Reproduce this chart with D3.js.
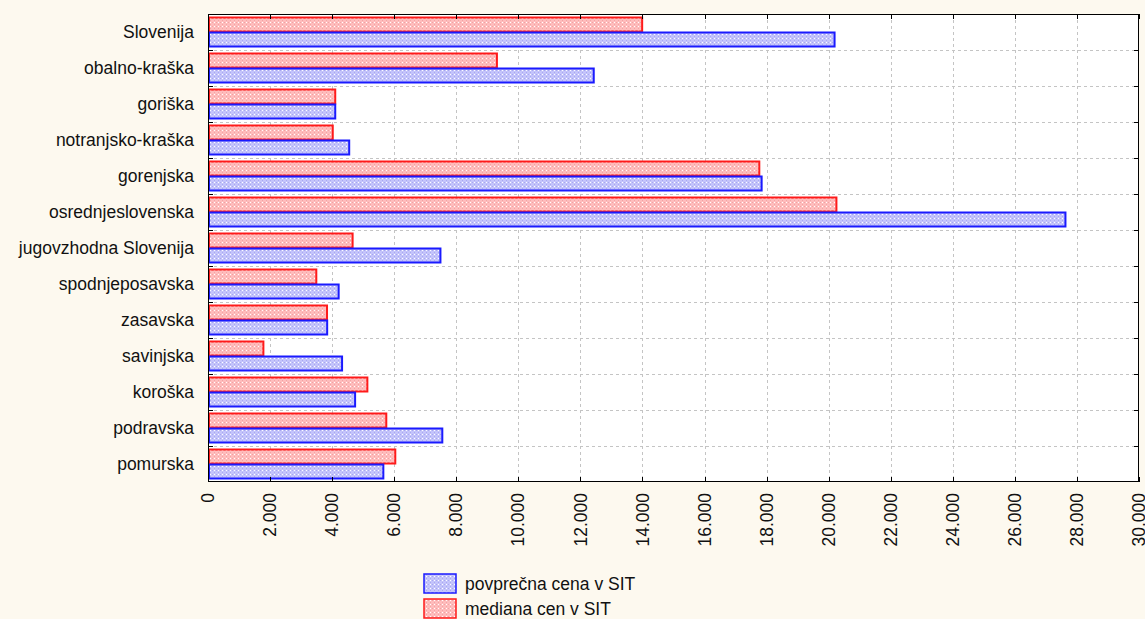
<!DOCTYPE html>
<html>
<head>
<meta charset="utf-8">
<script src="https://cdn.jsdelivr.net/npm/d3@7"></script>
<style>
  html, body { margin: 0; padding: 0; background: #fdf9ef; }
  svg { display: block; }
  text { font-family: "Liberation Sans", Arial, sans-serif; font-size: 17.5px; fill: #111; }
</style>
</head>
<body>
<svg id="chart" width="1145" height="619"></svg>
<script>
// Regions (top to bottom)
const regions = [
  "Slovenija", "obalno-kraška", "goriška", "notranjsko-kraška", "gorenjska",
  "osrednjeslovenska", "jugovzhodna Slovenija", "spodnjeposavska", "zasavska",
  "savinjska", "koroška", "podravska", "pomurska"
];
// Average price in SIT
const povprecna = [20190, 12430, 4100, 4550, 17840, 27630, 7490, 4210, 3840, 4320, 4740, 7550, 5650];
// Median price in SIT
const mediana = [13990, 9310, 4100, 4020, 17765, 20250, 4660, 3490, 3835, 1785, 5135, 5745, 6035];
const seriesNames = ["mediana cen v SIT", "povprečna cena v SIT"];
const legendNames = ["povprečna cena v SIT", "mediana cen v SIT"];
const tickValues = [0, 2000, 4000, 6000, 8000, 10000, 12000, 14000, 16000, 18000, 20000, 22000, 24000, 26000, 28000, 30000];

const svg = d3.select("#chart");
const m = { left: 208, top: 14, right: 1139, bottom: 482 };

const x = d3.scaleLinear().domain([0, 30000]).range([m.left, m.right]);
const y = d3.scaleBand().domain(regions).range([m.top, m.bottom]).padding(0);
const ys = d3.scaleBand().domain(seriesNames).range([0, y.bandwidth()]).paddingInner(0).paddingOuter(0.2);

const fmt = v => v === 0 ? "0" : d3.format(",")(v).replace(/,/g, ".");

// Hatch patterns for bar fills
const defs = svg.append("defs");
function pattern(id, base, dot) {
  const p = defs.append("pattern").attr("id", id).attr("patternUnits", "userSpaceOnUse")
    .attr("width", 4).attr("height", 4);
  p.append("rect").attr("width", 4).attr("height", 4).attr("fill", base);
  p.append("rect").attr("x", 0).attr("y", 0).attr("width", 1).attr("height", 1).attr("fill", dot);
  p.append("rect").attr("x", 2).attr("y", 2).attr("width", 1).attr("height", 1).attr("fill", dot);
  p.append("rect").attr("x", 2).attr("y", 0).attr("width", 1).attr("height", 1).attr("fill", "#fff");
}
pattern("hatchBlue", "#c4c4fb", "#a8a8f0");
pattern("hatchRed", "#ffbcbc", "#f0a4a4");

// Plot background
svg.append("rect").attr("x", m.left).attr("y", m.top)
  .attr("width", m.right - m.left).attr("height", m.bottom - m.top).attr("fill", "#fff");

// Grid
const grid = svg.append("g").attr("stroke", "#c4c4c4").attr("stroke-dasharray", "3,3").attr("stroke-width", 1);
grid.selectAll("line.v").data(tickValues.slice(1, -1)).join("line")
  .attr("x1", d => Math.round(x(d)) + 0.5).attr("x2", d => Math.round(x(d)) + 0.5)
  .attr("y1", m.top).attr("y2", m.bottom);
grid.selectAll("line.h").data(regions.slice(1)).join("line")
  .attr("y1", d => Math.round(y(d)) + 0.5).attr("y2", d => Math.round(y(d)) + 0.5)
  .attr("x1", m.left).attr("x2", m.right);

// Bars
const rows = regions.map((r, i) => ({ r, vals: [
  { s: seriesNames[0], v: mediana[i], fill: "url(#hatchRed)", stroke: "#ff1a1a" },
  { s: seriesNames[1], v: povprecna[i], fill: "url(#hatchBlue)", stroke: "#1a1aff" }
]}));
svg.append("g").selectAll("g").data(rows).join("g")
  .attr("transform", d => `translate(0,${y(d.r)})`)
  .selectAll("rect").data(d => d.vals).join("rect")
  .attr("x", x(0) + 1)
  .attr("y", d => ys(d.s) + 0.5)
  .attr("width", d => x(d.v) - x(0) - 1)
  .attr("height", ys.bandwidth() - 1)
  .attr("fill", d => d.fill)
  .attr("stroke", d => d.stroke)
  .attr("stroke-width", 2);

// Frame and inward ticks
const axG = svg.append("g").attr("stroke", "#000").attr("stroke-width", 1);
axG.append("rect").attr("x", m.left + 0.5).attr("y", m.top + 0.5)
  .attr("width", m.right - m.left - 1).attr("height", m.bottom - m.top - 1).attr("fill", "none");
axG.selectAll("line.tt").data(tickValues).join("line")
  .attr("x1", d => Math.round(x(d)) + 0.5).attr("x2", d => Math.round(x(d)) + 0.5)
  .attr("y1", m.top).attr("y2", m.top + 5);
axG.selectAll("line.tb").data(tickValues).join("line")
  .attr("x1", d => Math.round(x(d)) + 0.5).attr("x2", d => Math.round(x(d)) + 0.5)
  .attr("y1", m.bottom).attr("y2", m.bottom - 5);
axG.selectAll("line.tl").data(regions.slice(1)).join("line")
  .attr("y1", d => Math.round(y(d)) + 0.5).attr("y2", d => Math.round(y(d)) + 0.5)
  .attr("x1", m.left).attr("x2", m.left + 5);
axG.selectAll("line.tr").data(regions.slice(1)).join("line")
  .attr("y1", d => Math.round(y(d)) + 0.5).attr("y2", d => Math.round(y(d)) + 0.5)
  .attr("x1", m.right).attr("x2", m.right - 5);

// Category labels
svg.append("g").selectAll("text").data(regions).join("text")
  .attr("x", 194).attr("y", d => y(d) + y.bandwidth() / 2)
  .attr("dy", "0.35em").attr("text-anchor", "end").text(d => d);

// Value tick labels (rotated)
svg.append("g").selectAll("text").data(tickValues).join("text")
  .attr("transform", d => `translate(${x(d)},493) rotate(-90)`)
  .attr("dy", "0.35em").attr("text-anchor", "end").text(fmt);

// Legend
const lg = svg.append("g");
const legendFill = ["url(#hatchBlue)", "url(#hatchRed)"];
const legendStroke = ["#1a1aff", "#ff1a1a"];
legendNames.forEach((n, i) => {
  const yy = 574 + i * 25;
  lg.append("rect").attr("x", 424).attr("y", yy).attr("width", 32).attr("height", 19)
    .attr("fill", legendFill[i]).attr("stroke", legendStroke[i]).attr("stroke-width", 1.5);
  lg.append("text").attr("x", 465).attr("y", yy + 10).attr("dy", "0.35em").text(n);
});
</script>
</body>
</html>
